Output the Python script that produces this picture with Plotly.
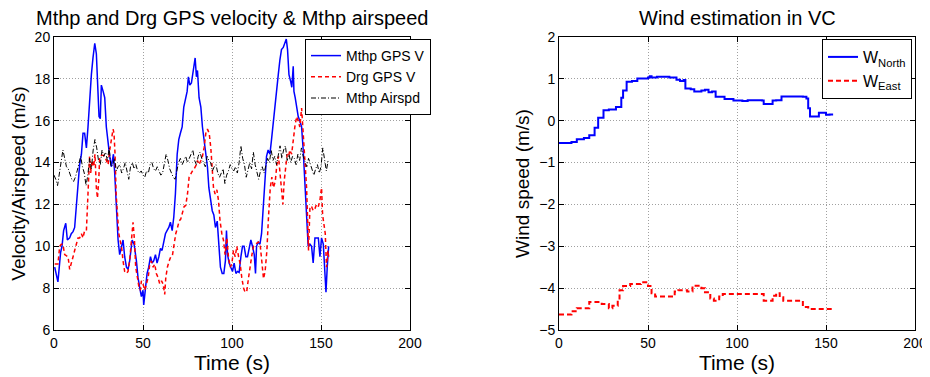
import numpy as np
import plotly.graph_objects as go

# ---------------- Left panel data ----------------
t_mthp = [0.4, 2.2, 3.7, 4.5, 5.4, 6.6, 7.5, 8.8, 9.7, 10.7, 11.6, 12.6, 13.5, 14.4, 15.4, 16.3, 17.2, 18.2,
          19.1, 20, 21, 21.9, 22.9, 23.8, 24.7, 25.3, 26, 26.6, 27.6, 28.5, 29.4, 30.4, 31.3, 32.2, 33.4, 34.1,
          35, 36, 36.9, 37.9, 38.8, 39.7, 40.7, 41.6, 42.5, 43.9, 45, 46.3, 47.2, 48.2, 49.1, 50, 50.4, 51.4,
          52.3, 53.2, 54.2, 55.1, 56, 57, 57.9, 58.9, 59.8, 60.7, 61.7, 62.6, 63.5, 64.5, 65.4, 66.4, 67.3,
          68.2, 69.2, 70.1, 71, 72, 72.9, 73.9, 74.8, 75.5, 76.3, 77.2, 78.2, 79.3, 80, 80.6, 81.5, 82.5, 83.4,
          84.3, 85.3, 86.2, 87, 87.9, 88.9, 89.8, 90.7, 91.7, 92.6, 93.5, 94.5, 95.4, 96.3, 96.9, 97.5, 98.4,
          99.3, 100.3, 101.2, 102.2, 103.1, 104, 105, 105.9, 106.8, 107.8, 108.7, 109.7, 110.6, 111.5, 112.5,
          113.2, 113.8, 114.7, 115.7, 116.6, 117.5, 118.5, 119.4, 120.3, 121.3, 122.2, 123.1, 124.1, 125, 126,
          126.9, 127.8, 128.8, 129.7, 130.5, 131.2, 132, 132.9, 133.6, 134.4, 134.8, 135.5, 136.3, 137.2, 138.1,
          139.1, 140, 141, 141.9, 142.8, 143.8, 144.7, 145.6, 146.6, 147.5, 148.5, 149.4, 150.3, 151.3, 152.2,
          152.8, 153.5, 154.3]
v_mthp = [9.0, 8.3, 9.7, 10.0, 10.75, 11.1, 10.3, 10.4, 10.6, 10.7, 10.9, 11.9, 12.8, 13.9, 14.4, 15.4, 15.4, 14.7,
          15.7, 17.1, 18.2, 19.0, 19.7, 19.2, 17.4, 16.2, 16.1, 17.7, 17.4, 17.1, 15.7, 14.9, 14.3, 13.8, 14.4, 13.5,
          11.9, 10.3, 9.6, 10.0, 10.3, 9.5, 9.0, 8.9, 9.3, 10.3, 10.1, 9.3, 8.5, 8.0, 7.6, 7.9, 7.2, 8.0,
          8.7, 9.0, 9.5, 9.2, 9.3, 9.6, 9.2, 9.5, 9.9, 9.8, 10.3, 10.6, 10.75, 10.9, 11.15, 10.75, 11.4,
          12.5, 14.4, 15.1, 15.4, 15.7, 16.65, 17.1, 17.4, 18.1, 17.7, 17.8, 18.4, 19.0, 18.1, 18.4, 17.1, 16.65, 15.7,
          15.1, 14.3, 13.8, 12.8, 12.2, 11.7, 11.5, 10.9, 11.2, 10.3, 9.0, 8.7, 8.7, 9.3, 10.75, 9.6, 9.2,
          9.0, 8.8, 9.2, 8.7, 8.8, 8.75, 9.5, 10.0, 10.0, 9.5, 9.5, 10.0, 10.3, 10.0, 9.6,
          8.7, 10.0, 10.2, 10.1, 10.6, 11.9, 13.5, 14.3, 14.6, 14.4, 15.1, 15.9, 16.65, 17.6, 18.2,
          18.9, 19.4, 19.5, 19.7, 19.9, 19.4, 18.2, 17.9, 17.6, 18.6, 17.4, 17.1, 16.65, 16.2, 16.0,
          15.7, 14.6, 13.0, 10.9, 10.0, 10.1, 10.0, 9.2, 10.4, 10.4, 10.4, 9.5, 10.4, 10.1, 8.4,
          7.8, 9.0, 10.0]

t_drg = [0.4, 2.2, 3.2, 4.1, 5, 6, 6.9, 7.9, 8.8, 9.7, 10.7, 11.6, 12.6, 13.5, 14.4, 15.4, 16.3, 17.2, 18.2, 18.7,
         19.5, 20, 20.6, 21.4, 22.3, 23, 23.8, 24.4, 25.1, 25.7, 26.6, 27.6, 28.5, 29.4, 30.4, 31.3, 32.2, 33.2,
         33.7, 34.3, 34.9, 35.6, 36.4, 37.1, 37.9, 38.8, 39.7, 40.7, 41.6, 42.5, 43.5, 44.4, 45.2, 45.9, 46.9,
         47.8, 48.5, 49.1, 50, 51, 51.9, 52.9, 53.8, 54.7, 55.7, 56.6, 57.5, 58.5, 59.4, 60.4, 61.3, 62.2, 62.8,
         63.7, 64.7, 65.6, 66.5, 67.5, 68.4, 69.4, 70.3, 71.2, 72.2, 73.1, 74, 75, 75.9, 76.9, 77.8, 78.7, 79.7,
         80.6, 81.5, 82.5, 83.4, 84.3, 85.3, 86.2, 87.2, 88.1, 88.8, 89.6, 90.5, 91.5, 92.4, 93.3, 94.3, 95.2,
         96.1, 97.1, 98, 99, 99.9, 100.8, 101.8, 102.7, 103.7, 104.6, 105.5, 106.5, 107.4, 108.3, 109.3, 110.2,
         111.2, 112.1, 113, 114, 114.9, 115.8, 116.8, 117.7, 118.6, 119.6, 120.5, 121.5, 122.4, 123.3, 124.3,
         125.2, 126.1, 127.1, 128, 128.6, 129.3, 130.1, 131, 131.8, 132.5, 133.5, 134.4, 135.3, 136.3, 137.2,
         138.1, 139.1, 140, 141, 141.9, 142.5, 143, 143.8, 144.7, 145.6, 146.6, 147.5, 148.5, 149.4, 150.3,
         150.9, 151.6, 152.4, 153.1, 153.9, 154.3]
v_drg = [9.15, 9.15, 10.0, 10.1, 10.1, 9.6, 9.55, 9.5, 8.9, 9.15, 9.5, 9.8, 10.1, 10.4, 10.4, 10.6, 10.4, 10.75, 10.75, 11.9,
         13.0, 14.3, 13.5, 14.1, 13.8, 14.4, 12.8, 12.3, 13.1, 14.3, 14.35, 14.35, 14.3, 14.1, 13.9, 14.6, 15.1, 15.6,
         15.4, 14.4, 12.5, 11.4, 10.6, 10.3, 10.0, 9.3, 8.8, 8.7, 8.8, 9.3, 10.3, 11.15, 10.3, 9.0, 8.5,
         8.0, 7.9, 8.35, 8.2, 7.9, 8.2, 8.5, 9.15, 9.3, 9.0, 9.15, 8.7, 8.5, 8.2, 8.35, 8.2, 7.7, 8.5,
         9.0, 9.3, 9.5, 9.55, 10.1, 10.6, 10.9, 11.2, 11.3, 11.7, 11.9, 11.95, 12.5, 13.3, 13.5, 13.6, 13.7, 13.85,
         14.1, 13.9, 14.1, 14.3, 14.7, 15.4, 15.6, 15.4, 14.7, 13.6, 12.8, 12.5, 12.7, 12.2, 11.2, 10.6, 10.3,
         9.6, 10.4, 9.5, 9.0, 9.15, 9.8, 9.5, 10.0, 9.5, 9.15, 8.5, 8.0, 7.8, 7.85, 8.5, 9.15,
         9.6, 10.0, 10.1, 10.15, 10.2, 10.1, 9.0, 8.45, 8.8, 9.8, 11.4, 12.8, 13.3, 12.8, 13.1,
         13.9, 14.3, 13.5, 12.8, 12.0, 13.1, 13.6, 14.4, 14.3, 14.6, 14.4, 15.1, 15.7, 16.2, 16.0,
         15.7, 16.6, 15.4, 14.1, 12.8, 11.2, 9.8, 11.9, 11.9, 11.7, 11.8, 12.0, 11.9, 12.2, 12.8,
         11.5, 11.1, 10.6, 9.0, 9.8, 9.5]

v_airspd = [13.4, 13.2, 12.9, 13.5, 14.0, 14.6, 14.2, 13.8, 13.7, 13.4,
            13.2, 13.1, 13.3, 13.6, 14.0, 14.3, 13.8, 13.5, 12.9, 13.4,
            14.2, 13.7, 14.6, 15.1, 14.7, 14.1, 13.9, 14.6, 14.3, 14.5,
            14.1, 14.7, 13.8, 13.9, 14.2, 13.6, 13.8, 13.9, 13.5, 13.7,
            14.0, 13.6, 13.2, 13.8, 14.0, 13.7, 13.9, 13.6, 13.5, 13.6,
            13.4, 13.3, 13.6, 13.5, 13.9, 14.0, 13.7, 13.6, 13.8, 13.6,
            13.4, 13.5, 13.9, 14.4, 14.1, 13.7, 13.5, 13.3, 13.2, 13.6,
            14.0, 14.2, 13.9, 14.1, 14.3, 14.0, 14.2, 14.4, 14.6, 14.1,
            13.9, 14.3, 14.5, 14.2, 14.0, 13.8, 14.3, 14.1, 14.0, 13.6,
            13.8, 13.9, 13.5, 13.3, 13.5, 13.7, 13.0, 13.4, 13.6, 13.9,
            13.7, 13.6, 13.8, 13.5, 14.0, 14.8, 14.2, 13.9, 13.3, 13.6,
            14.0, 13.7, 14.5, 13.9, 13.5, 13.2, 13.6, 13.8, 13.5, 13.9,
            14.2, 14.0, 14.6, 14.1, 14.3, 13.9, 14.4, 14.8, 14.2, 14.6,
            14.8, 14.1, 14.4, 14.0, 14.3, 14.2, 13.9, 14.4, 14.1, 14.7,
            14.3, 14.0, 13.8, 14.2, 13.9, 13.6, 13.4, 13.7, 13.9, 13.5,
            13.8, 14.7, 14.2, 13.6, 14.1]
t_airspd = list(range(len(v_airspd)))

# ---------------- Right panel data ----------------
t_north = [0, 7, 10, 14, 17, 20, 22, 25, 28, 32, 35, 36, 38, 41, 44, 50, 51, 52, 55, 62, 66, 68, 70, 71,
           74, 76, 80, 82, 84, 86, 88, 93, 98, 103, 106, 114, 115, 120, 122, 125, 137, 139, 140, 141,
           144, 146, 150, 152, 154]
w_north = [-0.53, -0.51, -0.44, -0.41, -0.35, -0.17, 0.07, 0.25, 0.27, 0.33, 0.55, 0.72, 0.93, 0.95, 1.01, 1.03,
           1.06, 1.03, 1.05, 1.03, 0.98, 0.95, 0.97, 0.77, 0.75, 0.70, 0.72, 0.74, 0.68, 0.70, 0.57, 0.52,
           0.48, 0.47, 0.49, 0.48, 0.40, 0.48, 0.49, 0.58, 0.57, 0.53, 0.30, 0.10, 0.10, 0.19, 0.14, 0.15, 0.15]

t_east = [0, 7, 10, 17, 24, 28, 30, 33, 34, 36, 40, 46, 50, 52, 54, 65, 67, 72, 75, 80, 82, 85, 87, 90,
          92, 115, 120, 122, 124, 126, 137, 140, 154]
w_east = [-4.63, -4.55, -4.48, -4.33, -4.38, -4.48, -4.42, -4.30, -4.05, -3.95, -3.90, -3.86, -3.95, -4.12,
          -4.20, -4.08, -4.05, -4.08, -3.94, -4.00, -4.10, -4.25, -4.30, -4.20, -4.14, -4.30, -4.18, -4.12,
          -4.22, -4.30, -4.45, -4.50, -4.50]

FONT = "Liberation Sans, Arial, Helvetica, sans-serif"

fig = go.Figure()

fig.add_trace(go.Scatter(x=t_mthp, y=v_mthp, mode="lines", name="Mthp GPS V",
                         line=dict(color="#0000ff", width=1.5), xaxis="x", yaxis="y", legend="legend"))
fig.add_trace(go.Scatter(x=t_drg, y=v_drg, mode="lines", name="Drg GPS V",
                         line=dict(color="#ff0000", width=1.5, dash="4px,3px"), xaxis="x", yaxis="y", legend="legend"))
fig.add_trace(go.Scatter(x=t_airspd, y=v_airspd, mode="lines", name="Mthp Airspd",
                         line=dict(color="#000000", width=1, dash="5px,2px,1px,2px"), xaxis="x", yaxis="y",
                         legend="legend"))

fig.add_trace(go.Scatter(x=t_north, y=w_north, mode="lines", name="W<sub>North</sub>", line_shape="hv",
                         line=dict(color="#0000ff", width=2), xaxis="x2", yaxis="y2", legend="legend2"))
fig.add_trace(go.Scatter(x=t_east, y=w_east, mode="lines", name="W<sub>East</sub>", line_shape="hv",
                         line=dict(color="#ff0000", width=2, dash="5px,3px"), xaxis="x2", yaxis="y2",
                         legend="legend2"))

W, H = 930, 377
OFF = 8  # page body margin offset in the browser
ydom = [(H - (330 - OFF)) / H, (H - (37 - OFF)) / H]
xdom1 = [(54 - OFF) / W, (410 - OFF) / W]
xdom2 = [(559 - OFF) / W, (915 - OFF) / W]

axis_common = dict(showline=True, linecolor="black", linewidth=1, mirror="ticks", ticks="inside",
                   ticklen=5, tickcolor="black", showgrid=True, gridcolor="#a0a0a0", griddash="1px,2px",
                   gridwidth=1, zeroline=False, automargin=False,
                   tickfont=dict(family=FONT, size=14, color="black"))

fig.update_layout(
    width=W, height=H, margin=dict(l=0, r=0, t=0, b=0),
    paper_bgcolor="white", plot_bgcolor="white",
    font=dict(family=FONT, color="black"),
    xaxis=dict(domain=xdom1, anchor="y", range=[0, 200], tickvals=[0, 50, 100, 150, 200],
               title=dict(text="Time (s)", font=dict(size=21), standoff=0), **axis_common),
    yaxis=dict(domain=ydom, anchor="x", range=[6, 20], tickvals=[6, 8, 10, 12, 14, 16, 18, 20],
               title=dict(text="Velocity/Airspeed (m/s)", font=dict(size=19), standoff=4), **axis_common),
    xaxis2=dict(domain=xdom2, anchor="y2", range=[0, 200], tickvals=[0, 50, 100, 150, 200],
                title=dict(text="Time (s)", font=dict(size=21), standoff=0), **axis_common),
    yaxis2=dict(domain=ydom, anchor="x2", range=[-5, 2], tickvals=[-5, -4, -3, -2, -1, 0, 1, 2],
                title=dict(text="Wind speed (m/s)", font=dict(size=19), standoff=4), **axis_common),
    legend=dict(x=(431 - OFF) / W, y=(H - (39 - OFF)) / H, xanchor="right", yanchor="top", bgcolor="white",
                bordercolor="black", borderwidth=1, font=dict(family=FONT, size=14),
                tracegroupgap=0, itemwidth=30),
    legend2=dict(x=(912 - OFF) / W, y=(H - (39 - OFF)) / H, xanchor="right", yanchor="top", bgcolor="white",
                 bordercolor="black", borderwidth=1, font=dict(family=FONT, size=16),
                 tracegroupgap=0, itemwidth=30),
    annotations=[
        dict(text="Mthp and Drg GPS velocity & Mthp airspeed", x=(xdom1[0] + xdom1[1]) / 2, y=ydom[1],
             xref="paper", yref="paper", xanchor="center", yanchor="bottom", yshift=6, showarrow=False,
             font=dict(family=FONT, size=20, color="black")),
        dict(text="Wind estimation in VC", x=(xdom2[0] + xdom2[1]) / 2, y=ydom[1],
             xref="paper", yref="paper", xanchor="center", yanchor="bottom", yshift=6, showarrow=False,
             font=dict(family=FONT, size=20, color="black")),
    ],
)

fig.write_html("out.html")
